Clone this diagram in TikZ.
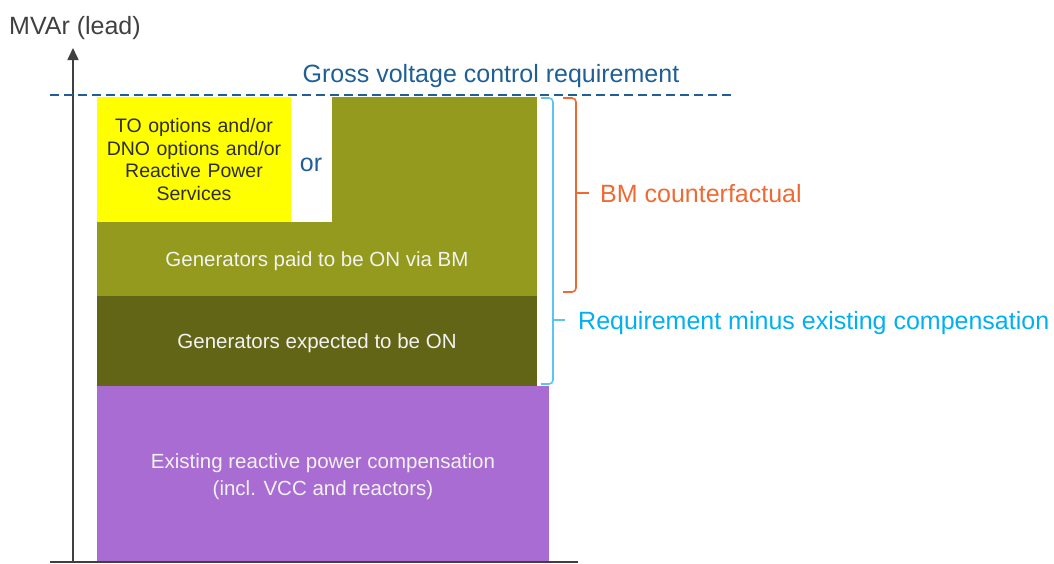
\documentclass[tikz,border=0pt]{standalone}
\usepackage{fontspec}
\setmainfont{Liberation Sans}
\usetikzlibrary{arrows.meta}
\definecolor{oliveA}{HTML}{939A1E}
\definecolor{oliveB}{HTML}{636516}
\definecolor{purp}{HTML}{A86CD2}
\definecolor{yel}{HTML}{FFFF00}
\definecolor{dblue}{HTML}{1F5F95}
\definecolor{lblue}{HTML}{00B0F0}
\definecolor{lbracket}{HTML}{5BC5F2}
\definecolor{orng}{HTML}{EE6A33}
\definecolor{axisgray}{HTML}{404040}
\definecolor{boxtext}{HTML}{F2F2F2}
\begin{document}
\begin{tikzpicture}[x=1pt,y=-1pt,
  blk/.style={inner sep=0pt, outer sep=0pt, anchor=north west, draw=none, align=center},
  wtext/.style={text=boxtext, font=\fontsize{20.5}{27}\selectfont, align=center},
  bigtext/.style={font=\fontsize{25}{28}\selectfont, inner sep=0pt},
  axisline/.style={draw=axisgray, line width=1.6pt},
  brk/.style={line width=1.6pt, rounded corners=4pt}
]
\useasboundingbox (0,0) rectangle (1054,563);

% blocks
\node[blk, fill=purp, minimum width=452pt, minimum height=176pt] (exist) at (97,386) {};
\node[wtext, anchor=center] (existtext) at ([yshift=-3pt]exist.center)
  {Existing reactive power compensation\\(incl. VCC and reactors)};
\node[blk, fill=oliveB, minimum width=440pt, minimum height=90pt] (expect) at (97,296) {};
\node[wtext, anchor=center] (expecttext) at ([yshift=-2pt]expect.center) {Generators expected to be ON};
\node[blk, fill=oliveA, minimum width=440pt, minimum height=74pt] (paid) at (97,222) {};
\node[wtext, anchor=center] (paidtext) at ([yshift=-2pt]paid.center) {Generators paid to be ON via BM};
\node[blk, fill=oliveA, minimum width=205pt, minimum height=126pt] (paidtop) at (332,97) {};
\node[blk, fill=yel, minimum width=194pt, minimum height=125pt, text width=194pt,
  text=axisgray!70!black, font=\fontsize{19.5}{22.7}\selectfont] (opts) at (97,97)
  {TO options and/or\\DNO options and/or\\Reactive Power\\Services};
\node[bigtext, text=dblue, anchor=base] (or) at (311,171) {or};

% axes
\coordinate (yorig) at (73,562);
\coordinate (ytop) at (73,48);
\coordinate (xl) at (50,562);
\coordinate (xr) at (578,562);
\draw[axisline, -{Triangle[length=12pt,width=11pt]}] (yorig) -- (ytop);
\draw[draw=axisgray, line width=2.2pt] (xl) -- (xr);
\node[bigtext, text=axisgray, anchor=base west] (ylabel) at (9,34) {MVAr (lead)};

% gross requirement
\coordinate (dl) at (50,95);
\coordinate (dr) at (733,95);
\draw[dblue, line width=1.3pt, dash pattern=on 9pt off 5pt] (dl) -- (dr);
\node[bigtext, text=dblue, anchor=base] (gross) at (491,82) {Gross voltage control requirement};

% blue bracket
\coordinate (b1) at (541,98);
\coordinate (b2) at (553,98);
\coordinate (b3) at (553,384);
\coordinate (b4) at (541,384);
\coordinate (bm) at (553,320);
\coordinate (bt) at (565,320);
\draw[brk, lbracket] (b1) -- (b2) -- (b3) -- (b4);
\draw[lbracket, line width=1.6pt] (bm) -- (bt);
\node[bigtext, text=lblue, anchor=base west] (req) at (578,329) {Requirement minus existing compensation};

% orange bracket
\coordinate (o1) at (563,98);
\coordinate (o2) at (576,98);
\coordinate (o3) at (576,292);
\coordinate (o4) at (563,292);
\coordinate (om) at (576,193);
\coordinate (ot) at (589,193);
\draw[brk, orng] (o1) -- (o2) -- (o3) -- (o4);
\draw[orng, line width=1.6pt] (om) -- (ot);
\node[bigtext, text=orng, anchor=base west] (bmc) at (600,202) {BM counterfactual};
\end{tikzpicture}
\end{document}
